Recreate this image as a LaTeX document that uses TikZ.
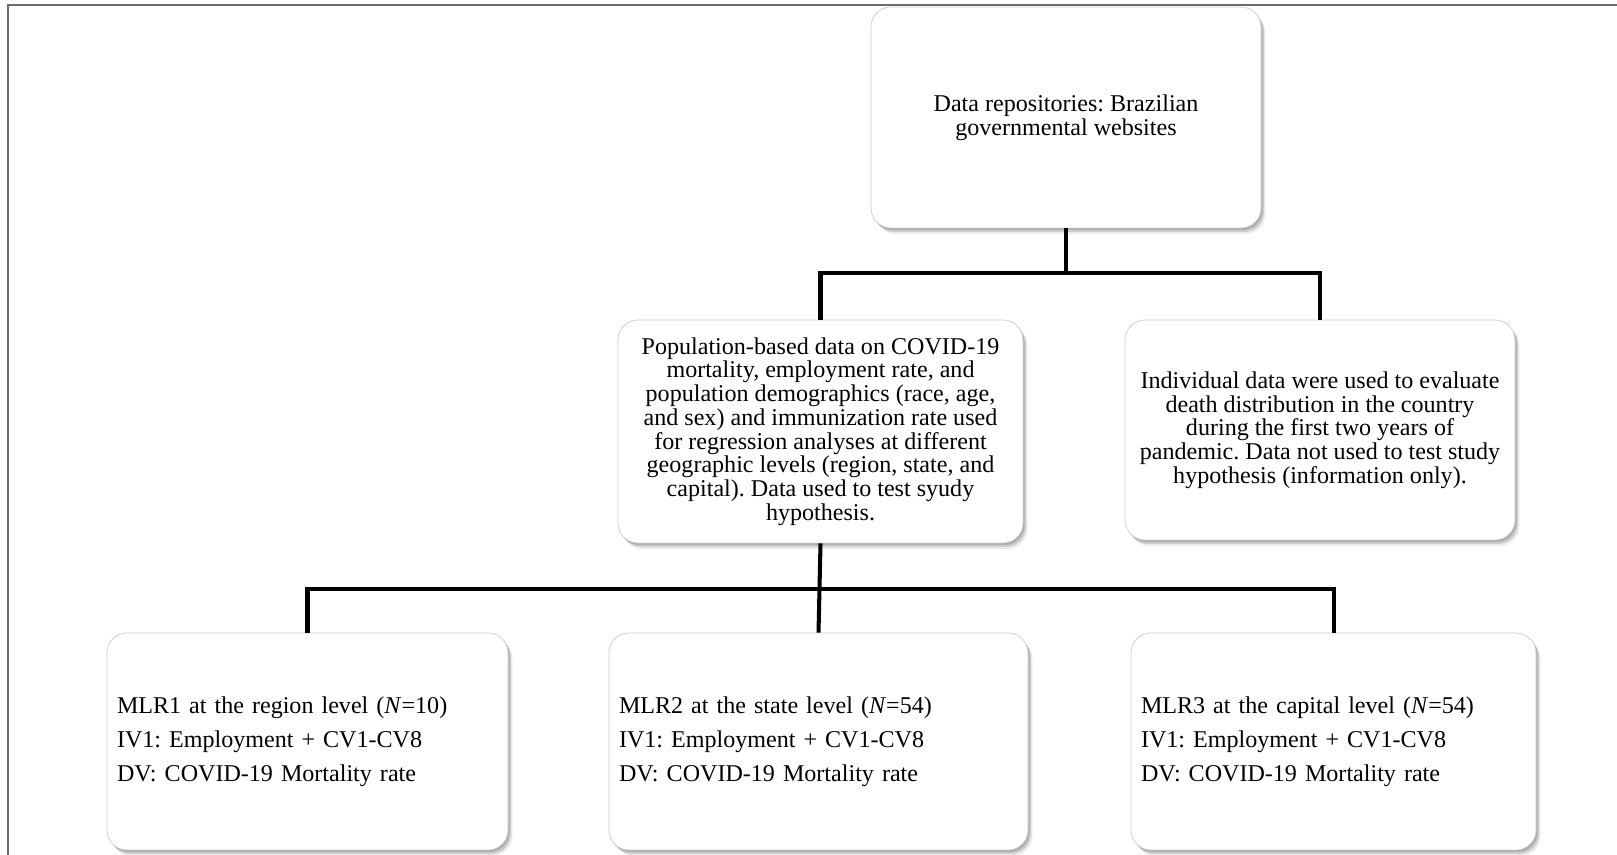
\documentclass[tikz,border=0pt]{standalone}
\usepackage{fontspec}
\setmainfont{Liberation Serif}
\usetikzlibrary{positioning, shadows, calc}
\frenchspacing

\tikzset{
  infobox/.style={draw=gray!40, fill=white, rounded corners=0.4cm,
    drop shadow={shadow xshift=0.09cm, shadow yshift=-0.12cm,
      opacity=0.15, fill=gray},
    drop shadow={shadow xshift=0.06cm, shadow yshift=-0.08cm,
      opacity=0.3, fill=gray},
    drop shadow={shadow xshift=0.03cm, shadow yshift=-0.04cm,
      opacity=0.4, fill=gray},
    align=center, inner sep=0.2cm,
    font=\fontsize{13.7}{13.5}\selectfont},
  modelbox/.style={infobox, align=left,
    font=\fontsize{13.7}{19.3}\selectfont},
  link/.style={line width=2.3pt, black}
}

\begin{document}
\begin{tikzpicture}
  \useasboundingbox (0,0) rectangle (32.34,17.1);

  % Frame
  \draw[gray!85!black, line width=1pt] (32.34,17.0) -- (0.16,17.0) -- (0.16,0);

  % Source
  \node[infobox, minimum width=7.8cm, minimum height=4.42cm]
    (repo) at (21.32,14.75)
    {Data repositories: Brazilian\\governmental websites};

  % Second level
  \node[infobox, minimum width=8.1cm, minimum height=4.46cm]
    (popdata) at (16.41,8.47)
    {Population-based data on COVID-19\\
     mortality, employment rate, and\\
     population demographics (race, age,\\
     and sex) and immunization rate used\\
     for regression analyses at different\\
     geographic levels (region, state, and\\
     capital). Data used to test syudy\\
     hypothesis.};
  \node[infobox, minimum width=7.8cm, minimum height=4.4cm]
    (indiv) at (26.4,8.5)
    {Individual data were used to evaluate\\
     death distribution in the country\\
     during the first two years of\\
     pandemic. Data not used to test study\\
     hypothesis (information only).};

  % Regression models
  \node[modelbox, text width=7.62cm, minimum height=4.34cm]
    (mlrregion) at (6.15,2.27)
    {MLR1 at the region level (\textit{N}=10)\\
     IV1: Employment + CV1-CV8\\
     DV: COVID-19 Mortality rate};
  \node[modelbox, text width=7.98cm, minimum height=4.34cm]
    (mlrstate) at (16.37,2.27)
    {MLR2 at the state level (\textit{N}=54)\\
     IV1: Employment + CV1-CV8\\
     DV: COVID-19 Mortality rate};
  \node[modelbox, text width=7.7cm, minimum height=4.34cm]
    (mlrcapital) at (26.67,2.27)
    {MLR3 at the capital level (\textit{N}=54)\\
     IV1: Employment + CV1-CV8\\
     DV: COVID-19 Mortality rate};

  % Connectors
  \coordinate (split1) at (repo.south |- 0,11.64);
  \coordinate (split2) at (popdata.south |- 0,5.32);
  \draw[link] (repo.south) -- (split1);
  \draw[link] (popdata.north) |- (split1) -| (indiv.north);
  \draw[link] (popdata.south) -- (mlrstate.north);
  \draw[link] (mlrregion.north) |- (split2) -| (mlrcapital.north);
\end{tikzpicture}
\end{document}
